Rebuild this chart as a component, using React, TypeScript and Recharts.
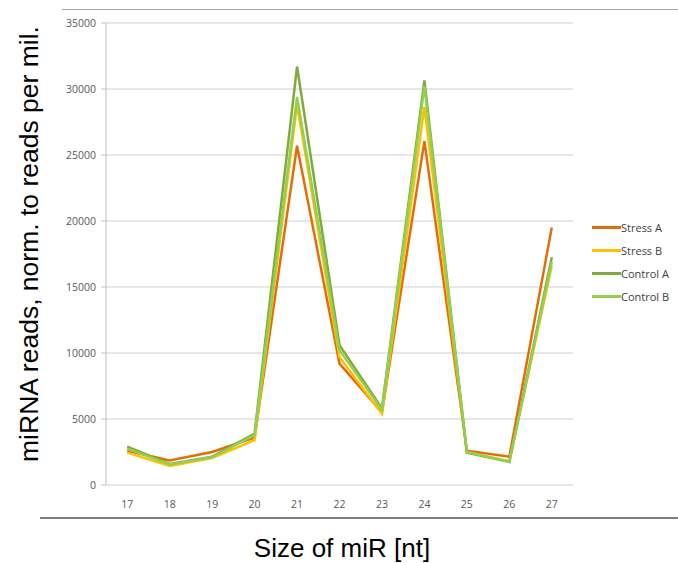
import { LineChart, Line, XAxis, YAxis, CartesianGrid } from 'recharts';

const sizes = [17, 18, 19, 20, 21, 22, 23, 24, 25, 26, 27];
const stressA = [2600, 1850, 2500, 3600, 25700, 9200, 5500, 26050, 2600, 2150, 19500];
const stressB = [2450, 1450, 2050, 3400, 28800, 9700, 5400, 28650, 2500, 1800, 16600];
const controlA = [2900, 1600, 2150, 3900, 31700, 10600, 5800, 30650, 2450, 1750, 17250];
const controlB = [2750, 1550, 2100, 3800, 29400, 10200, 5700, 30200, 2500, 1750, 16900];
const yTicks = [0, 5000, 10000, 15000, 20000, 25000, 30000, 35000];
const tickMarks = [16.5, 17.5, 18.5, 19.5, 20.5, 21.5, 22.5, 23.5, 24.5, 25.5, 26.5, 27.5];

const series = [
  { key: 'Stress A', values: stressA, color: '#E46C0A' },
  { key: 'Stress B', values: stressB, color: '#FFC000' },
  { key: 'Control A', values: controlA, color: '#7FAA3C' },
  { key: 'Control B', values: controlB, color: '#92D050' },
];

const data = sizes.map((size, i) => {
  const row: Record<string, number> = { size };
  series.forEach((s) => {
    row[s.key] = s.values[i];
  });
  return row;
});

const tickFont = { fontFamily: 'Open Sans, sans-serif', fontSize: 10.5, fill: '#595959' };

export default function App() {
  return (
    <div style={{ position: 'absolute', left: 0, top: 0, width: 678, height: 563, background: '#fff' }}>
      <div style={{ position: 'absolute', left: 62, top: 9, width: 616, height: 1, background: '#a6a6a6' }} />
      <div style={{ position: 'absolute', left: 40, top: 517, width: 638, height: 2, background: '#7f7f7f' }} />
      <LineChart
        width={678}
        height={563}
        data={data}
        margin={{ top: 23, right: 105, bottom: 48, left: 56 }}
      >
        <CartesianGrid vertical={false} stroke="#cfcfcf" strokeWidth={1.2} />
        <XAxis
          xAxisId="marks"
          type="number"
          domain={[16.5, 27.5]}
          ticks={tickMarks}
          tick={false}
          height={0}
          stroke="#bfbfbf"
          tickSize={5}
        />
        <XAxis
          dataKey="size"
          type="number"
          domain={[16.5, 27.5]}
          ticks={sizes}
          tickLine={false}
          axisLine={false}
          tick={tickFont}
          tickSize={5}
          tickMargin={11}
          height={30}
        />
        <YAxis
          domain={[0, 35000]}
          ticks={yTicks}
          width={50}
          stroke="#bfbfbf"
          tick={tickFont}
          tickSize={5}
          tickMargin={5}
        />
        {series.map((s) => (
          <Line
            key={s.key}
            dataKey={s.key}
            stroke={s.color}
            strokeWidth={2.5}
            dot={false}
            activeDot={false}
            isAnimationActive={false}
          />
        ))}
      </LineChart>
      <div
        style={{
          position: 'absolute',
          left: 592,
          top: 216,
          fontFamily: 'Open Sans, sans-serif',
          fontSize: 11,
          color: '#404040',
        }}
      >
        {series.map((s) => (
          <div key={s.key} style={{ display: 'flex', alignItems: 'center', height: 23 }}>
            <div style={{ width: 29, height: 2.5, background: s.color }} />
            <span>{s.key}</span>
          </div>
        ))}
      </div>
      <div
        style={{
          position: 'absolute',
          left: 29,
          top: 244,
          transform: 'translate(-50%, -50%) rotate(-90deg)',
          whiteSpace: 'nowrap',
          fontFamily: 'Liberation Sans, Arial, sans-serif',
          fontSize: 26.5,
          color: '#000',
        }}
      >
        miRNA reads, norm. to reads per mil.
      </div>
      <div
        style={{
          position: 'absolute',
          left: 342,
          top: 548,
          transform: 'translate(-50%, -50%)',
          whiteSpace: 'nowrap',
          fontFamily: 'Liberation Sans, Arial, sans-serif',
          fontSize: 26,
          color: '#000',
        }}
      >
        Size of miR [nt]
      </div>
    </div>
  );
}
